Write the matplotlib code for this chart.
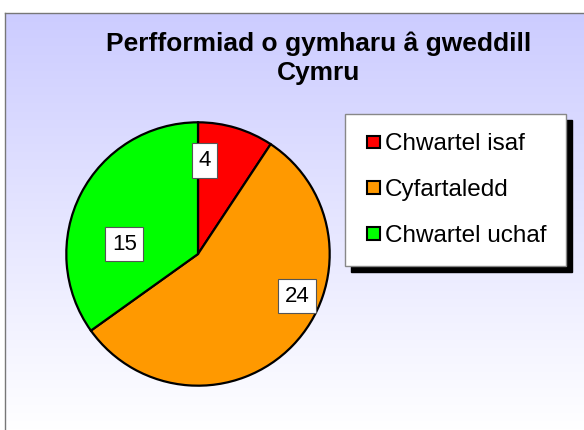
import numpy as np
import matplotlib.pyplot as plt
from matplotlib.colors import LinearSegmentedColormap
from matplotlib.patches import Rectangle
from matplotlib.legend_handler import HandlerPatch

plt.rcParams['font.family'] = ['Liberation Sans', 'DejaVu Sans']

# data
categories = ['Chwartel isaf', 'Cyfartaledd', 'Chwartel uchaf']
values = [4, 24, 15]
colours = ['#FF0000', '#FF9900', '#00FF00']
title = 'Perfformiad o gymharu â gweddill\nCymru'

W, H = 584, 430
fig = plt.figure(figsize=(W / 100, H / 100), dpi=100)
fig.patch.set_facecolor('white')

# chart area background: lavender -> white gradient, cut off by the image edges
bg = fig.add_axes([5 / W, 0, 1 - 5 / W, 1 - 13 / H])
grad = np.linspace(0, 1, 256).reshape(-1, 1)
cmap = LinearSegmentedColormap.from_list('bg', ['#CCCCFF', '#FFFFFF'])
bg.imshow(grad, aspect='auto', cmap=cmap, extent=[0, 1, 0, 1], origin='upper')
bg.set_xlim(0, 1)
bg.set_ylim(0, 1)
bg.set_xticks([])
bg.set_yticks([])
for side in ['right', 'bottom']:
    bg.spines[side].set_visible(False)
for side in ['top', 'left']:
    bg.spines[side].set_color('#777777')
    bg.spines[side].set_linewidth(1)

fig.text(318.5 / W, 1 - 32 / H, title, ha='center', va='top',
         fontsize=19, fontweight='bold', linespacing=1.22)

# pie
cx, cy, r = 198, 254, 133
ax = fig.add_axes([(cx - r) / W, (H - cy - r) / H, 2 * r / W, 2 * r / H])
wedges, _ = ax.pie(values, colors=colours, startangle=90, counterclock=False,
                   radius=1, wedgeprops=dict(edgecolor='black', linewidth=1.6))
ax.set_xlim(-1.01, 1.01)
ax.set_ylim(-1.01, 1.01)
ax.set_aspect('equal')

# value labels (Excel-style placement inside the slices)
label_pos = [(0.05, 0.71), (0.75, -0.32), (-0.56, 0.075)]
for v, (lx, ly) in zip(values, label_pos):
    ax.text(lx, ly, str(v), ha='center', va='center', fontsize=16,
            bbox=dict(boxstyle='square,pad=0.3', facecolor='white',
                      edgecolor='#555555', linewidth=0.8))


def square_handle(legend, orig_handle, xdescent, ydescent, width, height, fontsize):
    s = 0.53 * fontsize
    return Rectangle((-xdescent + width - s, -ydescent + (height - s) / 2), s, s)


leg = fig.legend(wedges, categories, loc='upper left',
                 bbox_to_anchor=(345 / W, 1 - 114 / H),
                 fontsize=17.5, frameon=True, fancybox=False,
                 handlelength=0.64, handleheight=0.7, handletextpad=0.2,
                 labelspacing=0.97, borderpad=0.8, borderaxespad=0,
                 handler_map={w: HandlerPatch(patch_func=square_handle) for w in wedges},
                 shadow={'ox': 4.3, 'oy': -4.3, 'color': 'black', 'alpha': 1})
leg.get_frame().set_edgecolor('#888888')
leg.get_frame().set_linewidth(1)
for h in leg.legend_handles:
    h.set_linewidth(1.5)

fig.savefig('out.png', dpi=100)
